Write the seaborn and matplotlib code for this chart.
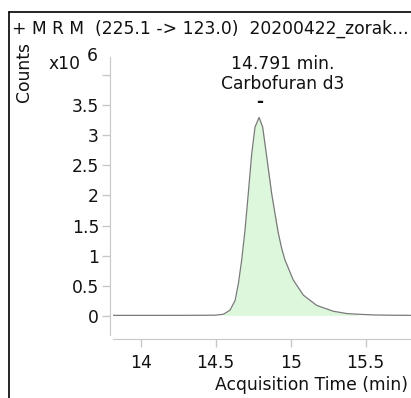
import numpy as np
import pandas as pd
import matplotlib
matplotlib.use("Agg")
import matplotlib.pyplot as plt
from matplotlib.lines import Line2D
import seaborn as sns

# chromatogram trace, counts in units of 1e6
time_min = [13.80, 14.00, 14.20, 14.40, 14.50, 14.551, 14.595, 14.629, 14.651,
            14.673, 14.695, 14.717, 14.740, 14.762, 14.789, 14.813, 14.840,
            14.873, 14.895, 14.917, 14.940, 14.962, 15.017, 15.084, 15.173,
            15.284, 15.373, 15.451, 15.55, 15.65, 15.80]
counts_e6 = [0.015, 0.015, 0.015, 0.016, 0.018, 0.033, 0.10, 0.26, 0.54,
             0.93, 1.42, 2.03, 2.69, 3.13, 3.29, 3.13, 2.64,
             2.03, 1.70, 1.38, 1.12, 0.93, 0.60, 0.35, 0.18,
             0.083, 0.045, 0.033, 0.022, 0.018, 0.015]
peak_start, peak_end = 14.551, 15.451
peak_rt = 14.791
peak_name = "Carbofuran d3"
title = "+ M R M  (225.1 -> 123.0)  20200422_zorak..."
x_ticks = [14, 14.5, 15, 15.5]
y_ticks = [0, 0.5, 1, 1.5, 2, 2.5, 3, 3.5, 4]
y_labels = ["0", "0.5", "1", "1.5", "2", "2.5", "3", "3.5", ""]

df = pd.DataFrame({"time": time_min, "counts": counts_e6})

sns.set_style("white")
plt.rcParams["font.family"] = ["DejaVu Sans"]
plt.rcParams["text.color"] = "#111111"
fs = 12.3
txt = "#111111"

fig = plt.figure(figsize=(4.11, 3.98), dpi=100)
ax = fig.add_axes([113 / 411, 1 - 335 / 398, 1 - 113 / 411, (335 - 57) / 398])

mask = (df["time"] >= peak_start) & (df["time"] <= peak_end)
ax.fill_between(df["time"][mask], 0.015, df["counts"][mask], color="#dcf7dc", lw=0)
sns.lineplot(data=df, x="time", y="counts", ax=ax, color="#7a7a7a", lw=0.9)

ax.set_xlim(13.815, 15.802)
ax.set_ylim(-0.31, 4.29)
ax.set_xticks(x_ticks)
ax.set_xticklabels([f"{v:g}" for v in x_ticks])
ax.set_yticks(y_ticks)
ax.set_yticklabels(y_labels)
ax.set_xlabel("")
ax.set_ylabel("")
ax.tick_params(axis="both", length=6, width=1, color="#c8c8c8", direction="out",
               bottom=True, left=True, labelsize=fs, labelcolor=txt)
ax.tick_params(axis="y", pad=2)
ax.tick_params(axis="x", pad=5)
for s in ["top", "right"]:
    ax.spines[s].set_visible(False)
ax.spines["left"].set_color("#c8c8c8")
ax.spines["bottom"].set_color("#c8c8c8")
ax.spines["left"].set_position(("outward", 2))
ax.spines["bottom"].set_position(("outward", 3))

# peak label
ax.text(283 / 411, 1 - 64 / 398, f"{peak_rt} min.", transform=fig.transFigure,
        ha="center", va="center", fontsize=fs)
ax.text(283 / 411, 1 - 84 / 398, peak_name, transform=fig.transFigure,
        ha="center", va="center", fontsize=fs)
ax.text(peak_rt, 3.55, "-", ha="center", va="center", fontsize=fs, fontweight="bold")

# frame and header texts
fig.add_artist(Line2D([9 / 411, 9 / 411], [0, 1 - 12 / 398], color="black", lw=1.2))
fig.add_artist(Line2D([9 / 411, 1], [1 - 12 / 398, 1 - 12 / 398], color="black", lw=1.2))
fig.text(12 / 411, 1 - 29 / 398, title, ha="left", va="center", fontsize=fs)
fig.text(24 / 411, 1 - 72 / 398, "Counts", rotation=90, ha="center", va="center", fontsize=fs)
fig.text(48 / 411, 1 - 64 / 398, "x10", ha="left", va="center", fontsize=fs)
fig.text(87 / 411, 1 - 56 / 398, "6", ha="left", va="center", fontsize=fs)
fig.text(408 / 411, 1 - 385 / 398, "Acquisition Time (min)", ha="right", va="center", fontsize=fs)

fig.savefig("out.png", dpi=100)
